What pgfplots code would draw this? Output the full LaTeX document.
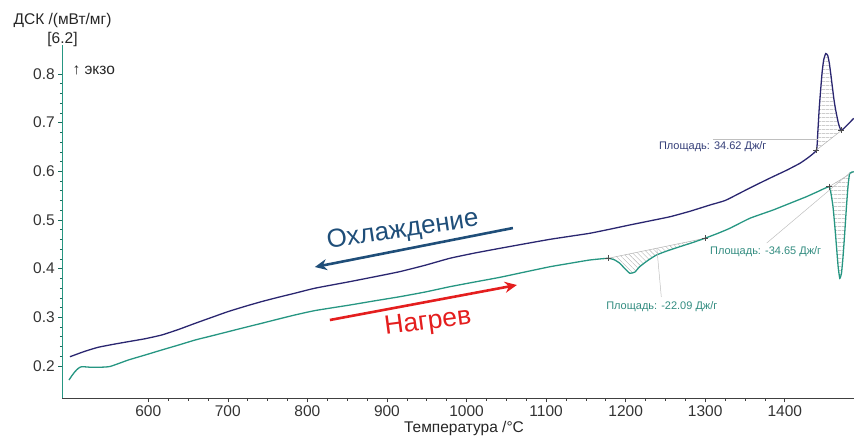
\documentclass[border=0pt]{standalone}
\usepackage{fontspec}
\setmainfont{Liberation Sans}
\usepackage{pgfplots}
\pgfplotsset{compat=1.18}
\usetikzlibrary{patterns.meta,arrows.meta}

\definecolor{navyc}{RGB}{42,38,112}
\definecolor{tealc}{RGB}{38,150,130}
\definecolor{coolc}{RGB}{31,78,121}
\definecolor{heatc}{RGB}{228,30,30}
\definecolor{lblnavy}{RGB}{52,62,120}
\definecolor{lblteal}{RGB}{50,140,128}

\begin{document}
\begin{tikzpicture}[x=1pt,y=1pt]
\useasboundingbox (0,0) rectangle (854,437);
\begin{axis}[
    at={(62.3pt,38.7pt)}, anchor=south west,
    scale only axis,
    width=791.7pt, height=353.5pt,
    xmin=492, xmax=1487,
    ymin=0.1336, ymax=0.86,
    clip=false,
    axis x line=bottom, axis y line=left,
    axis line style={-},
    x axis line style={black!75, line width=0.8pt},
    y axis line style={tealc, line width=1.1pt},
    xtick={600,700,800,900,1000,1100,1200,1300,1400},
    ytick={0.2,0.3,0.4,0.5,0.6,0.7,0.8},
    minor x tick num=3, minor y tick num=4,
    tick align=outside,
    major tick length=4pt, minor tick length=2.5pt,
    x tick style={black!75, line width=0.6pt},
    y tick style={tealc!70!black, line width=0.6pt},
    ticklabel style={font=\fontsize{15.5}{17}\selectfont, text=black!80},
    /pgf/number format/assume math mode=true,
    /pgf/number format/1000 sep={},
    yticklabel style={/pgf/number format/fixed, /pgf/number format/precision=1, /pgf/number format/fixed zerofill},
]

% hatched areas
\addplot[draw=none, pattern={Lines[angle=0,distance=4pt,line width=0.4pt]}, pattern color=gray!60] coordinates {
    (1439.8,0.6438) (1441.5,0.68) (1443.3,0.73) (1445.2,0.77) (1447,0.805) (1449,0.83)
    (1451.5,0.842) (1454,0.838) (1456,0.822) (1457.8,0.80) (1459.7,0.775) (1461.6,0.75)
    (1463.5,0.73) (1465.3,0.715) (1467.2,0.70) (1469.1,0.69) (1471.2,0.684)
};
\addplot[draw=none, pattern={Lines[angle=-45,distance=3.5pt,line width=0.4pt]}, pattern color=gray!60] coordinates {
    (1178,0.4213) (1186,0.418) (1192.7,0.411) (1199,0.400) (1205.3,0.3905) (1211.6,0.393)
    (1217.6,0.404) (1228,0.417) (1238.8,0.4281) (1253,0.4370) (1268,0.4451) (1284,0.4535) (1299.5,0.4624)
};
\addplot[draw=none, pattern={Lines[angle=0,distance=4pt,line width=0.4pt]}, pattern color=gray!60] coordinates {
    (1455.6,0.5684) (1458,0.555) (1460.6,0.5273) (1463,0.485) (1465,0.4451) (1467,0.405)
    (1469.1,0.3802) (1471.2,0.390) (1473.2,0.4246) (1475.4,0.475) (1477.5,0.5273) (1479.5,0.570)
    (1481.6,0.5959) (1486.7,0.5992)
};

% baselines
\addplot[gray!60, line width=0.5pt] coordinates {(1439.8,0.6438) (1471.2,0.684)};
\addplot[gray!60, line width=0.5pt] coordinates {(1178,0.4213) (1299.5,0.4624)};
\addplot[gray!60, line width=0.5pt] coordinates {(1455.6,0.5684) (1486.7,0.5992)};

% cooling curve
\addplot[navyc, line width=1.3pt, smooth, tension=0.3] coordinates {
    (501.6,0.219) (520,0.230) (537,0.2384) (556,0.2445) (575,0.250) (596,0.2560)
    (617,0.2637) (638,0.2750) (659,0.2877) (680,0.300) (700,0.3116) (721,0.3222)
    (742,0.3321) (763,0.3410) (784,0.3494) (810,0.3600) (853,0.3732) (885,0.3835)
    (916,0.3938) (948,0.4070) (979,0.4213) (1010,0.4320) (1042,0.4418) (1073,0.4510)
    (1105,0.4603) (1130,0.4665) (1155,0.4727) (1180,0.4810) (1205,0.4897) (1230,0.4980)
    (1256,0.5068) (1281,0.5180) (1306,0.5308) (1325,0.5400) (1343,0.5548) (1356,0.5657)
    (1370,0.5770) (1385,0.5889) (1402,0.6020) (1419,0.6165) (1430,0.6290) (1439.8,0.6438)
    (1441.5,0.68) (1443.3,0.73) (1445.2,0.77) (1447,0.805) (1449,0.83) (1451.5,0.842)
    (1454,0.838) (1456,0.822) (1457.8,0.80) (1459.7,0.775) (1461.6,0.75) (1463.5,0.73)
    (1465.3,0.715) (1467.2,0.70) (1469.1,0.69) (1471.2,0.684) (1479,0.696) (1486.7,0.709)
};

% heating curve
\addplot[tealc, line width=1.3pt, smooth, tension=0.3] coordinates {
    (500.4,0.1712) (504,0.180) (507.9,0.1883) (512,0.195) (516.3,0.1986) (526.7,0.1975)
    (537.2,0.1973) (552,0.199) (575,0.2123) (596,0.2225) (617,0.2329) (638,0.2430)
    (659,0.2534) (680,0.2620) (700.5,0.2705) (721,0.2790) (742.5,0.2877) (763,0.2962)
    (784.3,0.3048) (810,0.3140) (853.5,0.3253) (885,0.3340) (916.3,0.3424) (948,0.3520)
    (979,0.3629) (1010,0.3725) (1042,0.3822) (1073,0.3930) (1105,0.4040) (1130,0.4110)
    (1155,0.4178) (1178,0.4213) (1186,0.418) (1192.7,0.411) (1199,0.400) (1205.3,0.3905)
    (1211.6,0.393) (1217.6,0.404) (1228,0.417) (1238.8,0.4281) (1253,0.4370) (1268,0.4451)
    (1284,0.4535) (1299.5,0.4624) (1315,0.4720) (1330.9,0.4829) (1356.1,0.5035)
    (1385.3,0.5205) (1406,0.5340) (1427.2,0.5479) (1441,0.5580) (1455.6,0.5684)
    (1458,0.555) (1460.6,0.5273) (1463,0.485) (1465,0.4451) (1467,0.405) (1469.1,0.3802)
    (1471.2,0.390) (1473.2,0.4246) (1475.4,0.475) (1477.5,0.5273) (1479.5,0.570)
    (1481.6,0.5959) (1486.7,0.5992)
};

% integration limits
\addplot[only marks, mark=+, mark size=3pt, gray!60!black, mark options={line width=0.5pt}] coordinates {
    (1439.8,0.6438) (1471.2,0.684) (1178,0.4213) (1299.5,0.4624) (1455.6,0.5684)
};

% leader lines
\draw[gray!50, line width=0.5pt] (axis cs:1309.5,0.6664) -- (axis cs:1442,0.6664);
\draw[gray!50, line width=0.5pt] (axis cs:1377.3,0.4527) -- (axis cs:1481.6,0.5966);
\draw[gray!50, line width=0.5pt] (axis cs:1239.2,0.4425) -- (axis cs:1244.8,0.3418);

\node[text=lblnavy, font=\fontsize{11}{12}\selectfont] at (axis cs:1309.5,0.650) {Площадь: 34.62 Дж/г};
\node[text=lblteal, font=\fontsize{11}{12}\selectfont] at (axis cs:1376,0.4349) {Площадь: -34.65 Дж/г};
\node[text=lblteal, font=\fontsize{11}{12}\selectfont] at (axis cs:1245.5,0.3212) {Площадь: -22.09 Дж/г};

% direction labels
\draw[coolc, line width=2.6pt, -{Stealth[length=12pt,width=11pt]}] (axis cs:1058.3,0.4835) -- (axis cs:809.4,0.4034);
\node[text=coolc, rotate=8.5, font=\fontsize{26}{28}\selectfont] at (axis cs:920,0.478) {Охлаждение};
\draw[heatc, line width=2.6pt, -{Stealth[length=12pt,width=11pt]}] (axis cs:828.3,0.2945) -- (axis cs:1063.3,0.3664);
\node[text=heatc, rotate=7.5, font=\fontsize{26.5}{28}\selectfont] at (axis cs:951.6,0.2884) {Нагрев};
\end{axis}

\node[text=black!85, font=\fontsize{15.5}{17}\selectfont] at (62.5,416.3) {ДСК /(мВт/мг)};
\node[text=black!85, font=\fontsize{15.5}{17}\selectfont] at (62.5,398) {[6.2]};
\node[anchor=west, text=black!85, font=\fontsize{15.5}{17}\selectfont] at (69,367) {↑ экзо};
\node[text=black!85, font=\fontsize{15.5}{17}\selectfont] at (464,9) {Температура /°C};
\end{tikzpicture}
\end{document}
